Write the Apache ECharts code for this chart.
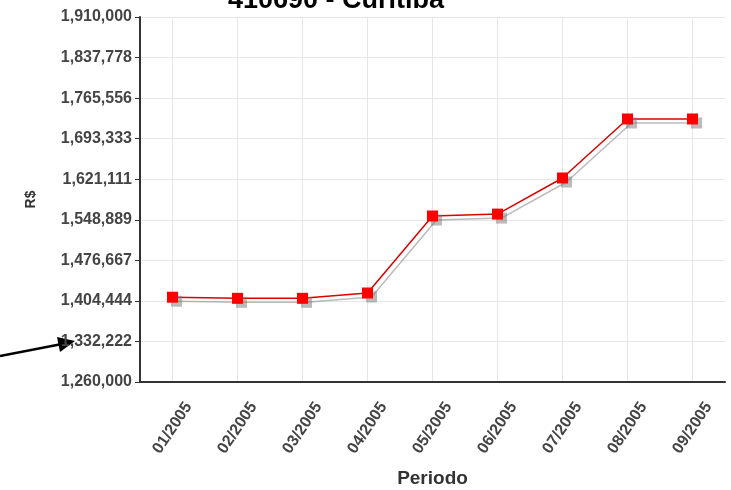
<!DOCTYPE html>
<html>
<head>
<meta charset="utf-8">
<script src="https://cdn.jsdelivr.net/npm/echarts@6/dist/echarts.min.js"></script>
<style>
  html, body { margin: 0; padding: 0; background: #fff; }
  #chart { width: 731px; height: 490px; }
</style>
</head>
<body>
<div id="chart"></div>
<script>
const categories = ['01/2005', '02/2005', '03/2005', '04/2005', '05/2005', '06/2005', '07/2005', '08/2005', '09/2005']
const values = [1411000, 1409000, 1409000, 1418500, 1555600, 1559000, 1623300, 1728400, 1728400]
const yMin = 1260000
const yMax = 1910000
const yStep = (yMax - yMin) / 9

const chart = echarts.init(document.getElementById('chart'))
const font = 'Liberation Sans, Arial, sans-serif'
const shadow = 'rgba(120,120,120,0.5)'

let option = {
  animation: false,
  title: {
    text: '410690 - Curitiba',
    left: 223,
    top: -18,
    textStyle: { fontFamily: font, fontSize: 27, fontWeight: 'bold', color: '#000' },
  },
  grid: { left: 140, right: 6, top: 17, bottom: 108, outerBoundsMode: 'none' },
  xAxis: {
    type: 'category',
    data: categories,
    boundaryGap: true,
    name: 'Periodo',
    nameLocation: 'middle',
    nameGap: 87,
    nameTextStyle: { fontFamily: font, fontSize: 19, fontWeight: 'bold', color: '#333' },
    axisLine: { lineStyle: { color: '#333', width: 2 } },
    axisTick: { alignWithLabel: true, length: 5, lineStyle: { color: '#333' } },
    axisLabel: {
      rotate: 56,
      margin: 46,
      align: 'center',
      verticalAlign: 'middle',
      fontFamily: font,
      fontSize: 16,
      fontWeight: 'bold',
      color: '#444',
    },
    splitLine: { show: true, alignWithLabel: true, lineStyle: { color: '#e6e6e6' } },
  },
  yAxis: {
    type: 'value',
    min: yMin,
    max: yMax,
    interval: yStep,
    name: 'R$',
    nameLocation: 'middle',
    nameGap: 102,
    nameRotate: 90,
    nameTextStyle: { fontFamily: font, fontSize: 14, fontWeight: 'bold', color: '#333' },
    axisLine: { show: true, lineStyle: { color: '#333', width: 2 } },
    axisTick: { show: true, length: 5, lineStyle: { color: '#333' } },
    axisLabel: {
      margin: 8,
      fontFamily: font,
      fontSize: 16,
      fontWeight: 'bold',
      color: '#444',
      formatter: (v) => Math.round(v).toLocaleString('en-US'),
    },
    splitLine: { show: true, lineStyle: { color: '#e6e6e6' } },
  },
  series: [{
    type: 'line',
    data: values,
    symbol: 'rect',
    symbolSize: 11,
    lineStyle: { color: '#dd0000', width: 1.5, shadowColor: shadow, shadowOffsetX: 4, shadowOffsetY: 4 },
    itemStyle: { color: '#ff0000', shadowColor: shadow, shadowOffsetX: 4, shadowOffsetY: 4 },
  }],
  graphic: [
    { type: 'line', shape: { x1: 0, y1: 356, x2: 62, y2: 344 }, style: { stroke: '#000', lineWidth: 2.5 } },
    { type: 'polygon', shape: { points: [[75, 341], [57, 337], [60, 352]] }, style: { fill: '#000' } },
  ],
}

chart.setOption(option)
</script>
</body>
</html>
